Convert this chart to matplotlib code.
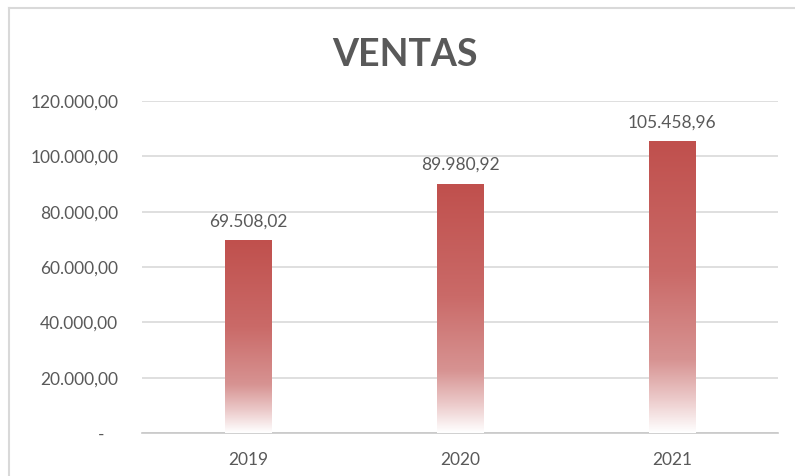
import matplotlib.pyplot as plt
import numpy as np
from matplotlib.colors import LinearSegmentedColormap
from matplotlib.lines import Line2D

YEARS = ["2019", "2020", "2021"]
VENTAS = [69508.02, 89980.92, 105458.96]
Y_TICKS = [0, 20000, 40000, 60000, 80000, 100000, 120000]

TEXT_COLOR = "#595959"
GRID_COLOR = "#D9D9D9"

plt.rcParams["font.family"] = ["Lato", "DejaVu Sans"]


def es_format(value):
    # Excel accounting style: 120.000,00 and "-" for zero
    if value == 0:
        return "-   "
    s = f"{value:,.2f}"
    return s.replace(",", "X").replace(".", ",").replace("X", ".")


# red on top, fading to white at the base of each bar
bar_cmap = LinearSegmentedColormap.from_list(
    "ventas",
    [
        (0.0, "#C0504D"),
        (0.45, "#CA6A68"),
        (0.75, "#D79392"),
        (0.88, "#EBC8C8"),
        (1.0, "#FFFFFF"),
    ],
)

fig = plt.figure(figsize=(7.95, 4.76), dpi=100)
ax = fig.add_axes([0.1786, 0.0903, 0.80, 0.6975])

x = np.arange(len(YEARS))
bar_width = 0.217

bars = ax.bar(x, VENTAS, width=bar_width, color="none", zorder=3)
gradient = np.linspace(0, 1, 256).reshape(-1, 1)
for rect in bars:
    x0 = rect.get_x()
    h = rect.get_height()
    ax.imshow(
        gradient,
        cmap=bar_cmap,
        aspect="auto",
        extent=[x0, x0 + rect.get_width(), 0, h],
        origin="upper",
        zorder=3,
    )

for xi, val in zip(x, VENTAS):
    ax.annotate(
        es_format(val),
        xy=(xi, val),
        xytext=(0, 8),
        textcoords="offset points",
        ha="center",
        va="bottom",
        fontsize=12.5,
        color=TEXT_COLOR,
    )

ax.set_xlim(-0.5, len(YEARS) - 0.5)
ax.set_ylim(0, 120000)
ax.set_xticks(x)
ax.set_xticklabels(YEARS)
ax.set_yticks(Y_TICKS)
ax.set_yticklabels([es_format(t) for t in Y_TICKS])
ax.tick_params(axis="both", length=0, labelsize=12.5, labelcolor=TEXT_COLOR)
ax.tick_params(axis="y", pad=17)
ax.tick_params(axis="x", pad=14)

ax.grid(axis="y", color=GRID_COLOR, linewidth=1.2, zorder=0)
ax.set_axisbelow(True)
for side in ["top", "right", "left"]:
    ax.spines[side].set_visible(False)
ax.spines["bottom"].set_color("#C8C8C8")
ax.spines["bottom"].set_linewidth(1.2)

fig.text(
    0.509,
    0.885,
    "VENTAS",
    ha="center",
    va="center",
    fontsize=27,
    fontweight="bold",
    color=TEXT_COLOR,
)

# chart area border (left and top edges visible)
fig.add_artist(Line2D([9 / 795, 9 / 795], [0, 1 - 8 / 476], color=GRID_COLOR, linewidth=1.5))
fig.add_artist(Line2D([9 / 795, 1], [1 - 8 / 476, 1 - 8 / 476], color=GRID_COLOR, linewidth=1.5))

fig.savefig("out.png", dpi=100)
